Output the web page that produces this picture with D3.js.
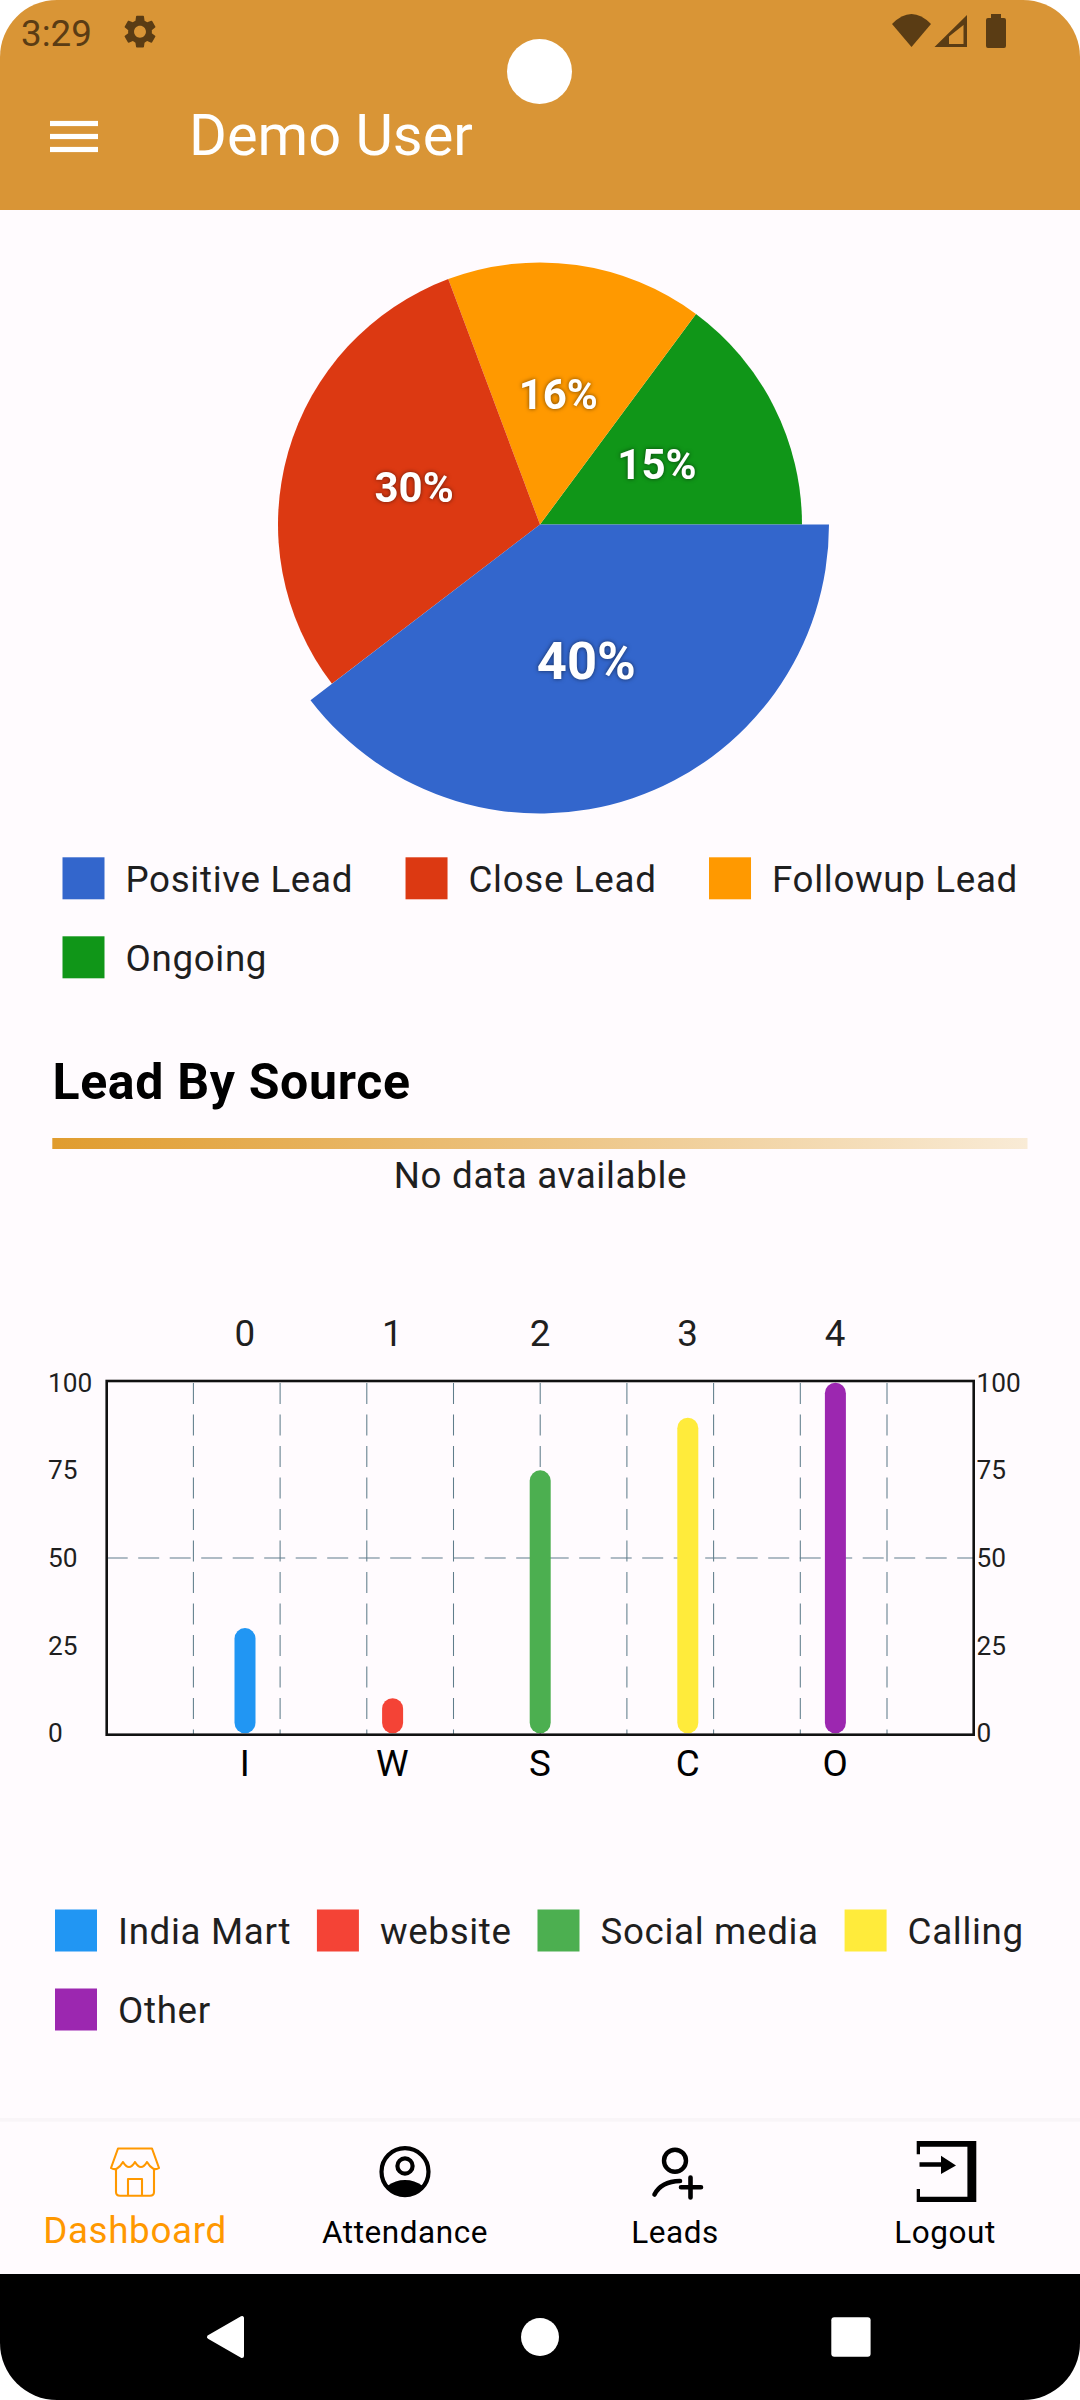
<!DOCTYPE html>
<html>
<head>
<meta charset="utf-8">
<script src="https://cdn.jsdelivr.net/npm/d3@7"></script>
<style>
  html, body { margin: 0; padding: 0; background: #fff; }
  svg { display: block; }
  text { font-family: Roboto, sans-serif; }
</style>
</head>
<body>
<svg id="screen" width="1080" height="2400"></svg>
<script>
// pie data
const leadLabels = ["Positive Lead", "Close Lead", "Followup Lead", "Ongoing"];
const leadValues = [40, 30, 16, 15];
const leadPercent = ["40%", "30%", "16%", "15%"];
const leadColors = ["#3366CC", "#DC3912", "#FF9900", "#109618"];

// bar data
const sourceLabels = ["India Mart", "website", "Social media", "Calling", "Other"];
const sourceInitials = ["I", "W", "S", "C", "O"];
const sourceIndex = [0, 1, 2, 3, 4];
const sourceValues = [30, 10, 75, 90, 100];
const sourceColors = ["#2196F3", "#F44336", "#4CAF50", "#FFEB3B", "#9C27B0"];
const yTicks = [0, 25, 50, 75, 100];
const gridColumns = [1, 2, 3, 4, 5, 6, 7, 8, 9];

const navItems = ["Dashboard", "Attendance", "Leads", "Logout"];

const W = 1080, H = 2400;
const bg = "#FFFBFE", bar = "#D99536", ink = "#1F1F1F", statusInk = "#5A3C14";
const svg = d3.select("#screen");

// page background, rounded screen corners
const R = 57;
svg.append("path").attr("fill", bg)
  .attr("d", `M0 ${R}A${R} ${R} 0 0 1 ${R} 0H${W - R}A${R} ${R} 0 0 1 ${W} ${R}V${H - R}A${R} ${R} 0 0 1 ${W - R} ${H}H${R}A${R} ${R} 0 0 1 0 ${H - R}Z`);

// app bar
svg.append("path").attr("fill", bar)
  .attr("d", `M0 210V${R}A${R} ${R} 0 0 1 ${R} 0H${W - R}A${R} ${R} 0 0 1 ${W} ${R}V210Z`);
svg.append("circle").attr("cx", 539.5).attr("cy", 71.5).attr("r", 32.5).attr("fill", "#fff");

svg.append("text").attr("x", 21).attr("y", 45.7).attr("font-size", 36.75).attr("fill", statusInk).text("3:29");
svg.append("path").attr("fill", statusInk).attr("fill-rule", "evenodd")
  .attr("transform", "translate(120.2,11.9) scale(1.65)")
  .attr("d", "M19.14 12.94c.04-.3.06-.61.06-.94 0-.32-.02-.64-.07-.94l2.03-1.58a.49.49 0 0 0 .12-.61l-1.92-3.32a.488.488 0 0 0-.59-.22l-2.39.96c-.5-.38-1.03-.7-1.62-.94l-.36-2.54a.484.484 0 0 0-.48-.41h-3.84c-.24 0-.43.17-.47.41l-.36 2.54c-.59.24-1.13.57-1.62.94l-2.39-.96c-.22-.08-.47 0-.59.22L2.74 8.87c-.12.21-.08.47.12.61l2.03 1.58c-.05.3-.09.63-.09.94s.02.64.07.94l-2.03 1.58a.49.49 0 0 0-.12.61l1.92 3.32c.12.22.37.29.59.22l2.39-.96c.5.38 1.03.7 1.62.94l.36 2.54c.05.24.24.41.48.41h3.84c.24 0 .44-.17.47-.41l.36-2.54c.59-.24 1.13-.56 1.62-.94l2.39.96c.22.08.47 0 .59-.22l1.92-3.32c.12-.22.07-.47-.12-.61l-2.01-1.58zM12 15.6c-1.98 0-3.6-1.62-3.6-3.6s1.62-3.6 3.6-3.6 3.6 1.62 3.6 3.6-1.62 3.6-3.6 3.6z");
svg.append("path").attr("fill", statusInk).attr("d", "M892 24Q911.5 4 931 24L911.5 47Z");
svg.append("path").attr("fill", statusInk).attr("fill-rule", "evenodd")
  .attr("d", "M967 15V47H934.5ZM963.5 25V44H949V36.5Z");
svg.append("path").attr("fill", statusInk).attr("d", "M991 18V14H1001V18H1004Q1006 18 1006 20V46Q1006 48 1004 48H988Q986 48 986 46V20Q986 18 988 18Z");

svg.append("g").attr("fill", "#fff").selectAll("rect").data([123.5, 136.5, 149.5]).join("rect")
  .attr("x", 50).attr("width", 48).attr("y", d => d - 2.6).attr("height", 5.2);
svg.append("text").attr("x", 189).attr("y", 155).attr("font-size", 57.75).attr("fill", "#fff").text("Demo User");

// pie
const pieCenter = [540, 524.5], pieRadius = 262, bigRadius = 289;
const color = d3.scaleOrdinal(leadLabels, leadColors);
const pie = d3.pie().sort(null).startAngle(Math.PI / 2).endAngle(Math.PI / 2 + 2 * Math.PI);
const slices = pie(leadValues).map((d, i) => ({ ...d, label: leadLabels[i], pct: leadPercent[i], r: i === 0 ? bigRadius : pieRadius, fs: i === 0 ? 52.5 : 42 }));
const pieG = svg.append("g").attr("transform", `translate(${pieCenter})`);
const arc = d3.arc().innerRadius(0).outerRadius(d => d.r);
// largest slice painted last, it sits over its neighbours
pieG.selectAll("path").data(slices.slice().reverse()).join("path")
  .attr("d", arc).attr("fill", d => color(d.label));
pieG.selectAll("text").data(slices).join("text")
  .attr("transform", d => `translate(${arc.centroid(d)})`)
  .attr("text-anchor", "middle").attr("dy", "0.33em")
  .attr("font-size", d => d.fs).attr("font-weight", 700).attr("fill", "#fff")
  .style("filter", "drop-shadow(0 0 2px rgba(0,0,0,0.55))")
  .text(d => d.pct);

// legend that wraps by hand, swatch + label flow
function legend(labels, colors, x0, rows, gap, breakAt) {
  const g = svg.append("g");
  let x = x0, row = 0;
  labels.forEach((name, i) => {
    if (i === breakAt) { x = x0; row = 1; }
    g.append("rect").attr("x", x).attr("y", rows[row]).attr("width", 42).attr("height", 42).attr("fill", colors[i]);
    const t = g.append("text").attr("x", x + 63).attr("y", rows[row] + 34.5)
      .attr("font-size", 36.75).attr("letter-spacing", 0.66).attr("fill", ink).text(name);
    x += 63 + t.node().getComputedTextLength() + gap;
  });
}
legend(leadLabels, leadColors, 62.5, [857.3, 936.3], 52.5, 3);

// section header
svg.append("text").attr("x", 52.5).attr("y", 1099).attr("font-size", 50).attr("font-weight", 700).attr("letter-spacing", 0.66).attr("fill", "#000").text("Lead By Source");
const grad = svg.append("defs").append("linearGradient").attr("id", "rule");
grad.append("stop").attr("offset", 0).attr("stop-color", "#E09C2E");
grad.append("stop").attr("offset", 1).attr("stop-color", "#F9EBD6");
svg.append("rect").attr("x", 52.3).attr("y", 1138).attr("width", 975.2).attr("height", 11).attr("fill", "url(#rule)");
svg.append("text").attr("x", 540.5).attr("y", 1187.8).attr("text-anchor", "middle").attr("font-size", 36.75).attr("letter-spacing", 0.66).attr("fill", ink).text("No data available");

// bar chart
const plot = { left: 106.7, right: 973.7, top: 1381, bottom: 1734.7 };
const x = d3.scalePoint().domain(sourceInitials).range([plot.left, plot.right]).padding(0.937);
const xTop = d3.scalePoint().domain(sourceIndex).range([plot.left, plot.right]).padding(0.937);
const y = d3.scaleLinear().domain([0, 100]).range([1733.3, 1382.7]);
const xGrid = d3.scaleLinear().domain([0, 10]).range([plot.left, plot.right]);
const gridColor = "#607D8B";

svg.append("g").selectAll("line").data(gridColumns).join("line")
  .attr("x1", d => xGrid(d)).attr("x2", d => xGrid(d))
  .attr("y1", plot.top + 2).attr("y2", plot.bottom)
  .attr("stroke", gridColor).attr("stroke-width", 1.05).attr("stroke-dasharray", "21 10.5");
svg.append("line").attr("x1", plot.left).attr("x2", plot.right)
  .attr("y1", y(50)).attr("y2", y(50))
  .attr("stroke", gridColor).attr("stroke-width", 1.05).attr("stroke-dasharray", "21 10.5");

svg.append("g").selectAll("rect").data(sourceValues).join("rect")
  .attr("x", (d, i) => x(sourceInitials[i]) - 10.5)
  .attr("width", 21)
  .attr("y", d => y(d))
  .attr("height", d => y(0) - y(d))
  .attr("rx", 10.5)
  .attr("fill", (d, i) => sourceColors[i]);

svg.append("rect").attr("x", plot.left).attr("y", plot.top)
  .attr("width", plot.right - plot.left).attr("height", plot.bottom - plot.top)
  .attr("fill", "none").attr("stroke", "#111").attr("stroke-width", 2.6);

const styleAxis = (g, size, fill) => {
  g.select(".domain").remove();
  g.selectAll("line").remove();
  g.selectAll("text").attr("font-size", size).attr("fill", fill).attr("font-family", "Roboto");
};
svg.append("g").attr("transform", "translate(48,0)")
  .call(d3.axisLeft(y).tickValues(yTicks).tickSize(0).tickPadding(0))
  .call(styleAxis, 26.25, ink)
  .selectAll("text").attr("text-anchor", "start");
svg.append("g").attr("transform", "translate(976.5,0)")
  .call(d3.axisRight(y).tickValues(yTicks).tickSize(0).tickPadding(0))
  .call(styleAxis, 26.25, ink);
svg.append("g").attr("transform", "translate(-0.7,1345.5)")
  .call(d3.axisTop(xTop).tickSize(0).tickPadding(0))
  .call(styleAxis, 36.75, ink);
svg.append("g").attr("transform", "translate(-0.7,1776)")
  .call(d3.axisBottom(x).tickSize(0).tickPadding(0))
  .call(styleAxis, 36.75, "#000")
  .selectAll("text").attr("dy", 0);

legend(sourceLabels, sourceColors, 55, [1909.5, 1988.5], 25.8, 4);

// bottom nav
svg.append("rect").attr("x", 0).attr("y", 2118).attr("width", W).attr("height", 3.7).attr("fill", "#F9F5F8");
const navX = d3.scalePoint().domain(navItems).range([0, W]).padding(0.5);
svg.append("g").selectAll("text").data(navItems).join("text")
  .attr("x", d => navX(d)).attr("text-anchor", "middle")
  .attr("y", (d, i) => i === 0 ? 2242.7 : 2243.3)
  .attr("font-size", (d, i) => i === 0 ? 36.75 : 31.5)
  .attr("letter-spacing", (d, i) => i === 0 ? 0.66 : 0.55)
  .attr("fill", (d, i) => i === 0 ? "#FF9800" : "#000")
  .text(d => d);

// store icon
svg.append("path").attr("fill", "none").attr("stroke", "#FF9800").attr("stroke-width", 2.1).attr("stroke-linejoin", "round")
  .attr("d", "M118 2148.5H152L159 2168Q153 2172 147 2162Q141 2172 135 2162Q129 2172 123 2162Q117 2172 111 2168ZM116 2169V2192Q116 2195.7 120 2195.7H150Q154 2195.7 154 2192V2169M128 2195.7V2179H142V2195.7");

// attendance icon
svg.append("clipPath").attr("id", "face").append("circle").attr("cx", 405).attr("cy", 2171.7).attr("r", 24);
svg.append("circle").attr("cx", 405).attr("cy", 2171.7).attr("r", 23.5).attr("fill", "none").attr("stroke", "#000").attr("stroke-width", 4.2);
svg.append("circle").attr("cx", 405).attr("cy", 2166).attr("r", 7.6).attr("fill", "none").attr("stroke", "#000").attr("stroke-width", 4.2);
svg.append("ellipse").attr("cx", 405).attr("cy", 2199).attr("rx", 24).attr("ry", 19).attr("clip-path", "url(#face)").attr("fill", "#000");

// leads icon
svg.append("circle").attr("cx", 675).attr("cy", 2160.7).attr("r", 11).attr("fill", "none").attr("stroke", "#000").attr("stroke-width", 4.4);
svg.append("path").attr("fill", "none").attr("stroke", "#000").attr("stroke-width", 4.6).attr("stroke-linecap", "round")
  .attr("d", "M654.5 2194.5Q661 2181.5 680 2181M681 2187.3H701M690.5 2177.5V2197.5");

// logout icon
svg.append("path").attr("fill", "#000")
  .attr("d", "M916.7 2141H976.3V2202H916.7V2189H920V2196.7H967.4V2146.7H920V2154.3H916.7ZM919.5 2162.3H941V2155.7L956 2165.5L941 2174V2166.7H919.5Z");

// system nav
svg.append("path").attr("fill", "#000")
  .attr("d", `M0 2274H${W}V${H - R}A${R} ${R} 0 0 1 ${W - R} ${H}H${R}A${R} ${R} 0 0 1 0 ${H - R}Z`);
svg.append("path").attr("fill", "#fff").attr("stroke", "#fff").attr("stroke-width", 4).attr("stroke-linejoin", "round")
  .attr("d", "M209 2337L242 2318V2356Z");
svg.append("circle").attr("cx", 540).attr("cy", 2337).attr("r", 19).attr("fill", "#fff");
svg.append("rect").attr("x", 831.3).attr("y", 2317.3).attr("width", 39.3).attr("height", 39.4).attr("rx", 3).attr("fill", "#fff");
</script>
</body>
</html>
